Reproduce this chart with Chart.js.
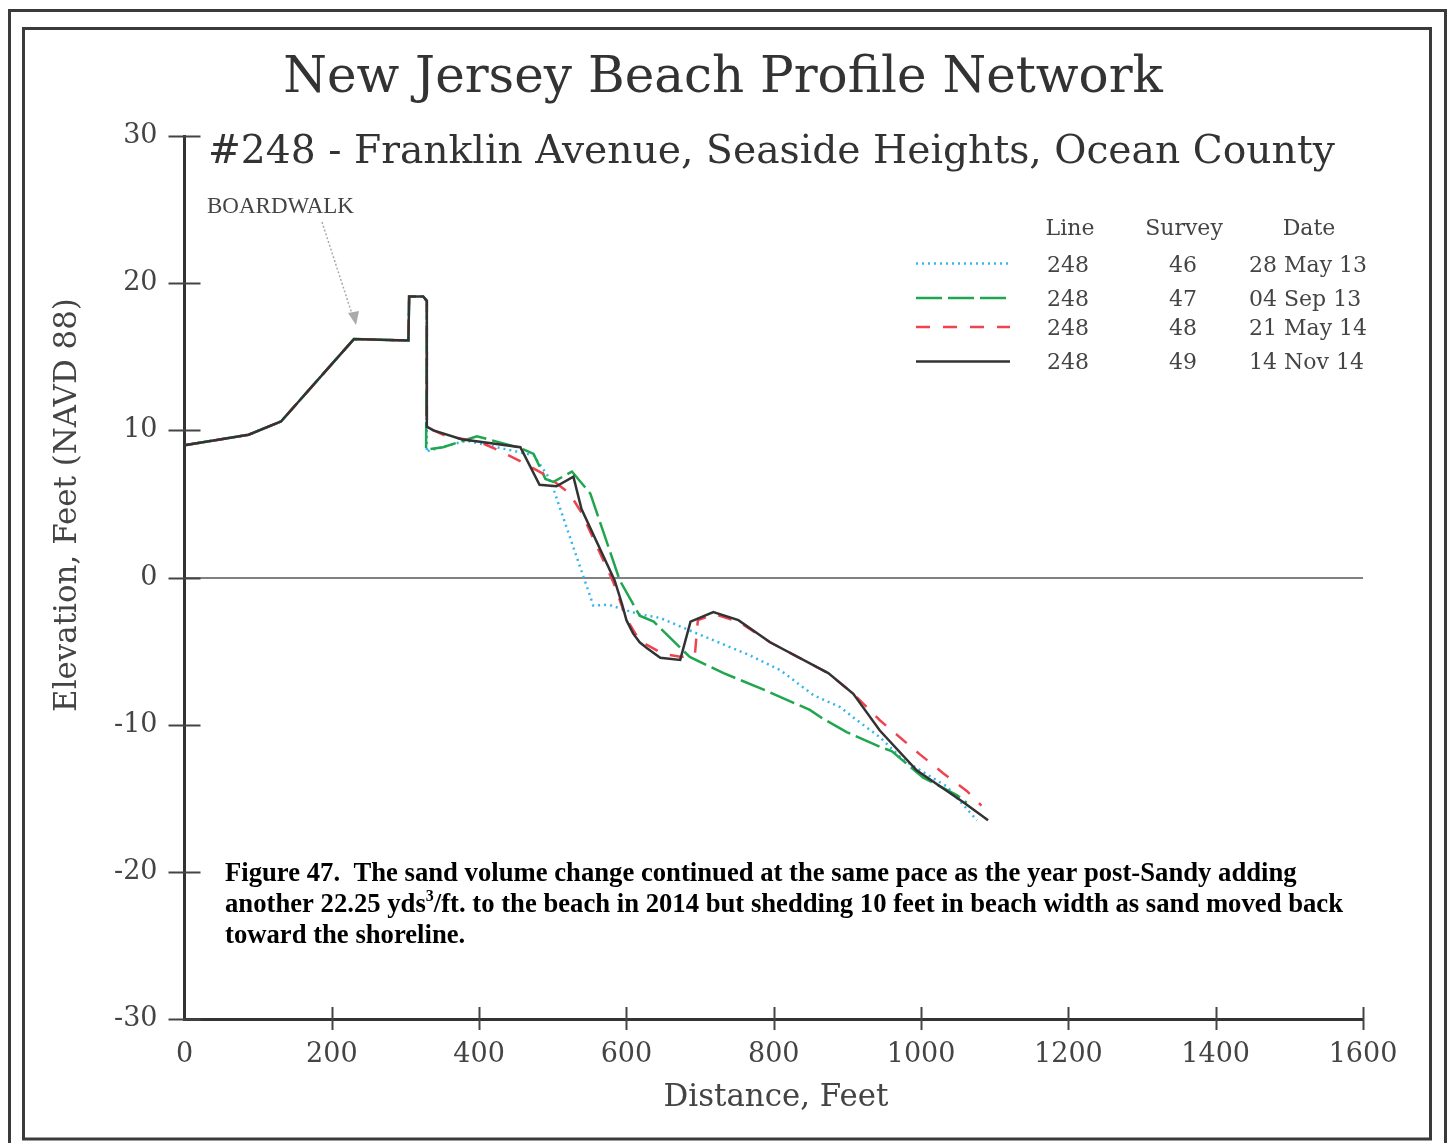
<!DOCTYPE html>
<html>
<head>
<meta charset="utf-8">
<script src="https://cdn.jsdelivr.net/npm/chart.js@4.4.0/dist/chart.umd.min.js"></script>
<style>
  html, body { margin: 0; padding: 0; background: #fff; }
  #wrap { width: 1450px; height: 1143px; }
</style>
</head>
<body>
<div id="wrap"><canvas id="profileChart" width="1450" height="1143"></canvas></div>
<script>
// Profile #248, values (distance ft, elevation ft NAVD 88)
const dist46 = [2, 87, 131, 230, 304, 305, 324, 329, 329, 331, 383, 447, 474, 492, 501, 555, 576, 591, 618, 646, 686, 768, 809, 854, 890, 913, 944, 976, 1035, 1076];
const elev46 = [9.0, 9.7, 10.6, 16.2, 16.1, 19.1, 19.1, 18.8, 8.5, 8.6, 9.3, 8.6, 8.3, 7.0, 6.0, -1.9, -1.85, -2.1, -2.5, -2.75, -3.6, -5.3, -6.3, -8.0, -8.8, -9.7, -10.85, -12.4, -14.2, -16.5];

const dist47 = [2, 87, 131, 230, 304, 305, 324, 329, 328, 351, 397, 419, 456, 474, 490, 501, 526, 551, 591, 618, 637, 686, 732, 790, 849, 867, 899, 944, 960, 1003, 1049, 1062];
const elev47 = [9.0, 9.7, 10.6, 16.2, 16.1, 19.1, 19.1, 18.8, 8.7, 8.85, 9.6, 9.3, 8.8, 8.4, 6.7, 6.5, 7.2, 5.7, -0.2, -2.6, -3.0, -5.4, -6.5, -7.7, -9.0, -9.6, -10.5, -11.5, -11.8, -13.6, -14.8, -15.3];

const dist48 = [2, 87, 131, 230, 304, 305, 324, 329, 329, 356, 401, 428, 460, 492, 523, 539, 582, 600, 618, 650, 675, 693, 697, 720, 752, 795, 874, 908, 944, 998, 1030, 1062, 1082];
const elev48 = [9.0, 9.7, 10.6, 16.2, 16.1, 19.1, 19.1, 18.8, 10.2, 9.6, 9.2, 8.6, 7.8, 6.9, 5.7, 4.4, -0.3, -2.8, -4.3, -5.2, -5.4, -5.2, -2.9, -2.5, -3.0, -4.4, -6.5, -7.9, -9.7, -12.0, -13.3, -14.5, -15.5];

const dist49 = [2, 87, 131, 230, 304, 305, 324, 329, 329, 338, 376, 456, 482, 505, 528, 539, 584, 594, 600, 609, 618, 628, 646, 673, 687, 718, 752, 795, 874, 908, 944, 994, 1057, 1091];
const elev49 = [9.0, 9.7, 10.6, 16.2, 16.1, 19.1, 19.1, 18.8, 10.25, 10.0, 9.4, 8.85, 6.3, 6.2, 6.85, 4.65, -0.2, -1.8, -2.9, -3.8, -4.4, -4.8, -5.45, -5.6, -3.0, -2.35, -2.9, -4.4, -6.5, -7.9, -10.4, -13.1, -15.25, -16.5];

const xTickValues = [0, 200, 400, 600, 800, 1000, 1200, 1400, 1600];
const yTickValues = [-30, -20, -10, 0, 10, 20, 30];

const lineNums = ['248', '248', '248', '248'];
const surveyNums = ['46', '47', '48', '49'];
const surveyDates = ['28 May 13', '04 Sep 13', '21 May 14', '14 Nov 14'];

const serif = '"DejaVu Serif", serif';
const timesFont = '"Liberation Serif", "Times New Roman", serif';

const lineStyles = [
    { color: '#33b5ee', dash: [2, 4], width: 2.5 },
    { color: '#1fa64e', dash: [26, 6], width: 2.5 },
    { color: '#ee4450', dash: [14, 13], width: 2.5 },
    { color: '#333333', dash: [], width: 2.5 }
];

function toPoints(xs, ys) {
    return xs.map((x, i) => ({ x: x, y: ys[i] }));
}

// scale a font so the text fills a given width
function fitSize(ctx, text, family, weight, width) {
    ctx.font = weight + ' 100px ' + family;
    return 100 * width / ctx.measureText(text).width;
}

function hline(ctx, x1, y1, x2, y2) {
    ctx.beginPath();
    ctx.moveTo(x1, y1);
    ctx.lineTo(x2, y2);
    ctx.stroke();
}

const decorPlugin = {
    id: 'decor',
    beforeDraw(chart) {
        const ctx = chart.ctx;
        ctx.save();
        ctx.fillStyle = '#fff';
        ctx.fillRect(0, 0, chart.width, chart.height);
        ctx.restore();
    },
    afterDraw(chart) {
        const ctx = chart.ctx;
        const xs = chart.scales.x, ys = chart.scales.y;
        ctx.save();

        // tick marks crossing the axes
        ctx.strokeStyle = '#444';
        ctx.lineWidth = 2;
        ys.ticks.forEach(t => {
            const py = Math.round(ys.getPixelForValue(t.value)) + 0.5;
            hline(ctx, xs.left - 16, py, xs.left + 16, py);
        });
        xs.ticks.forEach(t => {
            if (t.value === 0) return;
            const px = Math.round(xs.getPixelForValue(t.value)) + 0.5;
            hline(ctx, px, ys.bottom - 12, px, ys.bottom + 11);
        });

        // double frame
        ctx.strokeStyle = '#3a3a3a';
        ctx.lineWidth = 3;
        ctx.strokeRect(9.5, 10.5, 1436, 1150);
        ctx.strokeRect(23.5, 28.5, 1407, 1110.5);

        // titles
        ctx.fillStyle = '#333';
        ctx.textBaseline = 'alphabetic';
        const t1 = 'New Jersey Beach Profile Network';
        let s = fitSize(ctx, t1, serif, 'normal', 880);
        ctx.font = s + 'px ' + serif;
        ctx.textAlign = 'center';
        ctx.fillText(t1, 723, 92);

        const t2 = '#248 - Franklin Avenue, Seaside Heights, Ocean County';
        s = fitSize(ctx, t2, serif, 'normal', 1127);
        ctx.font = s + 'px ' + serif;
        ctx.textAlign = 'left';
        ctx.fillText(t2, 208, 163);

        // axis titles
        ctx.fillStyle = '#444';
        const yt = 'Elevation, Feet (NAVD 88)';
        s = fitSize(ctx, yt, serif, 'normal', 414);
        ctx.font = s + 'px ' + serif;
        ctx.textAlign = 'center';
        ctx.textBaseline = 'middle';
        ctx.save();
        ctx.translate(68, 505);
        ctx.rotate(-Math.PI / 2);
        ctx.fillText(yt, 0, 0);
        ctx.restore();
        const xt = 'Distance, Feet';
        s = fitSize(ctx, xt, serif, 'normal', 225);
        ctx.font = s + 'px ' + serif;
        ctx.fillText(xt, 776, 1098);

        // boardwalk note with dotted arrow
        ctx.textBaseline = 'alphabetic';
        ctx.textAlign = 'left';
        ctx.fillStyle = '#444';
        ctx.font = '23px ' + timesFont;
        ctx.fillText('BOARDWALK', 207, 213);
        ctx.strokeStyle = '#aaa';
        ctx.lineWidth = 1.5;
        ctx.setLineDash([2, 2]);
        hline(ctx, 322, 222, 352, 314);
        ctx.setLineDash([]);
        ctx.fillStyle = '#aaa';
        ctx.beginPath();
        ctx.moveTo(356, 325);
        ctx.lineTo(348, 313);
        ctx.lineTo(359, 311);
        ctx.closePath();
        ctx.fill();

        // legend table
        ctx.fillStyle = '#444';
        ctx.font = '22px ' + serif;
        ctx.textAlign = 'center';
        ctx.fillText('Line', 1070, 235);
        ctx.fillText('Survey', 1184, 235);
        ctx.fillText('Date', 1309, 235);
        const rowY = [272, 306, 335, 369];
        const sampleY = [263.5, 298, 327, 361.5];
        surveyNums.forEach((sv, i) => {
            const st = lineStyles[i];
            ctx.strokeStyle = st.color;
            ctx.lineWidth = st.width;
            ctx.setLineDash(st.dash);
            hline(ctx, 916, sampleY[i], 1010, sampleY[i]);
            ctx.setLineDash([]);
            ctx.textAlign = 'center';
            ctx.fillText(lineNums[i], 1068, rowY[i]);
            ctx.fillText(sv, 1183, rowY[i]);
            ctx.textAlign = 'left';
            ctx.fillText(surveyDates[i], 1249, rowY[i]);
        });

        // figure caption
        const cap1 = 'Figure 47.  The sand volume change continued at the same pace as the year post-Sandy adding';
        const cs = fitSize(ctx, cap1, timesFont, 'bold', 1072);
        ctx.fillStyle = '#000';
        ctx.textAlign = 'left';
        ctx.font = 'bold ' + cs + 'px ' + timesFont;
        ctx.fillText(cap1, 225, 881);
        let part = 'another 22.25 yds';
        ctx.fillText(part, 225, 912);
        let cx = 225 + ctx.measureText(part).width;
        ctx.font = 'bold ' + (cs * 0.6) + 'px ' + timesFont;
        ctx.fillText('3', cx, 901);
        cx += ctx.measureText('3').width;
        ctx.font = 'bold ' + cs + 'px ' + timesFont;
        ctx.fillText('/ft. to the beach in 2014 but shedding 10 feet in beach width as sand moved back', cx, 912);
        ctx.fillText('toward the shoreline.', 225, 943);

        ctx.restore();
    }
};

const seriesDist = [dist46, dist47, dist48, dist49];
const seriesElev = [elev46, elev47, elev48, elev49];

const ctx = document.getElementById('profileChart').getContext('2d');
const profileChart = new Chart(ctx, {
    type: 'line',
    data: {
        datasets: surveyNums.map((sv, i) => ({
            label: 'Survey ' + sv,
            data: toPoints(seriesDist[i], seriesElev[i]),
            borderColor: lineStyles[i].color,
            borderWidth: lineStyles[i].width,
            borderDash: lineStyles[i].dash,
            pointRadius: 0,
            tension: 0,
            fill: false,
            order: 3 - i
        }))
    },
    options: {
        responsive: false,
        animation: false,
        devicePixelRatio: 1,
        layout: { padding: { left: 0, right: 87, top: 136, bottom: 0 } },
        plugins: {
            legend: { display: false },
            tooltip: { enabled: false }
        },
        scales: {
            x: {
                type: 'linear',
                min: 0,
                max: 1600,
                afterBuildTicks: scale => { scale.ticks = xTickValues.map(v => ({ value: v })); },
                afterFit: scale => { scale.height = 124; },
                grid: { display: false, drawTicks: false },
                border: { display: true, color: '#333', width: 3 },
                ticks: {
                    color: '#444', padding: 20, maxRotation: 0,
                    font: { family: serif, size: 27 },
                    callback: v => String(v)
                }
            },
            y: {
                type: 'linear',
                min: -30,
                max: 30,
                afterBuildTicks: scale => { scale.ticks = yTickValues.map(v => ({ value: v })); },
                afterFit: scale => { scale.width = 184.5; },
                grid: {
                    drawTicks: false,
                    lineWidth: 2,
                    color: c => (c.tick && c.tick.value === 0) ? '#808080' : 'rgba(0,0,0,0)'
                },
                border: { display: true, color: '#333', width: 3 },
                ticks: {
                    color: '#444', padding: 27,
                    font: { family: serif, size: 27 },
                    callback: v => String(v)
                }
            }
        }
    },
    plugins: [decorPlugin]
});
</script>
</body>
</html>
